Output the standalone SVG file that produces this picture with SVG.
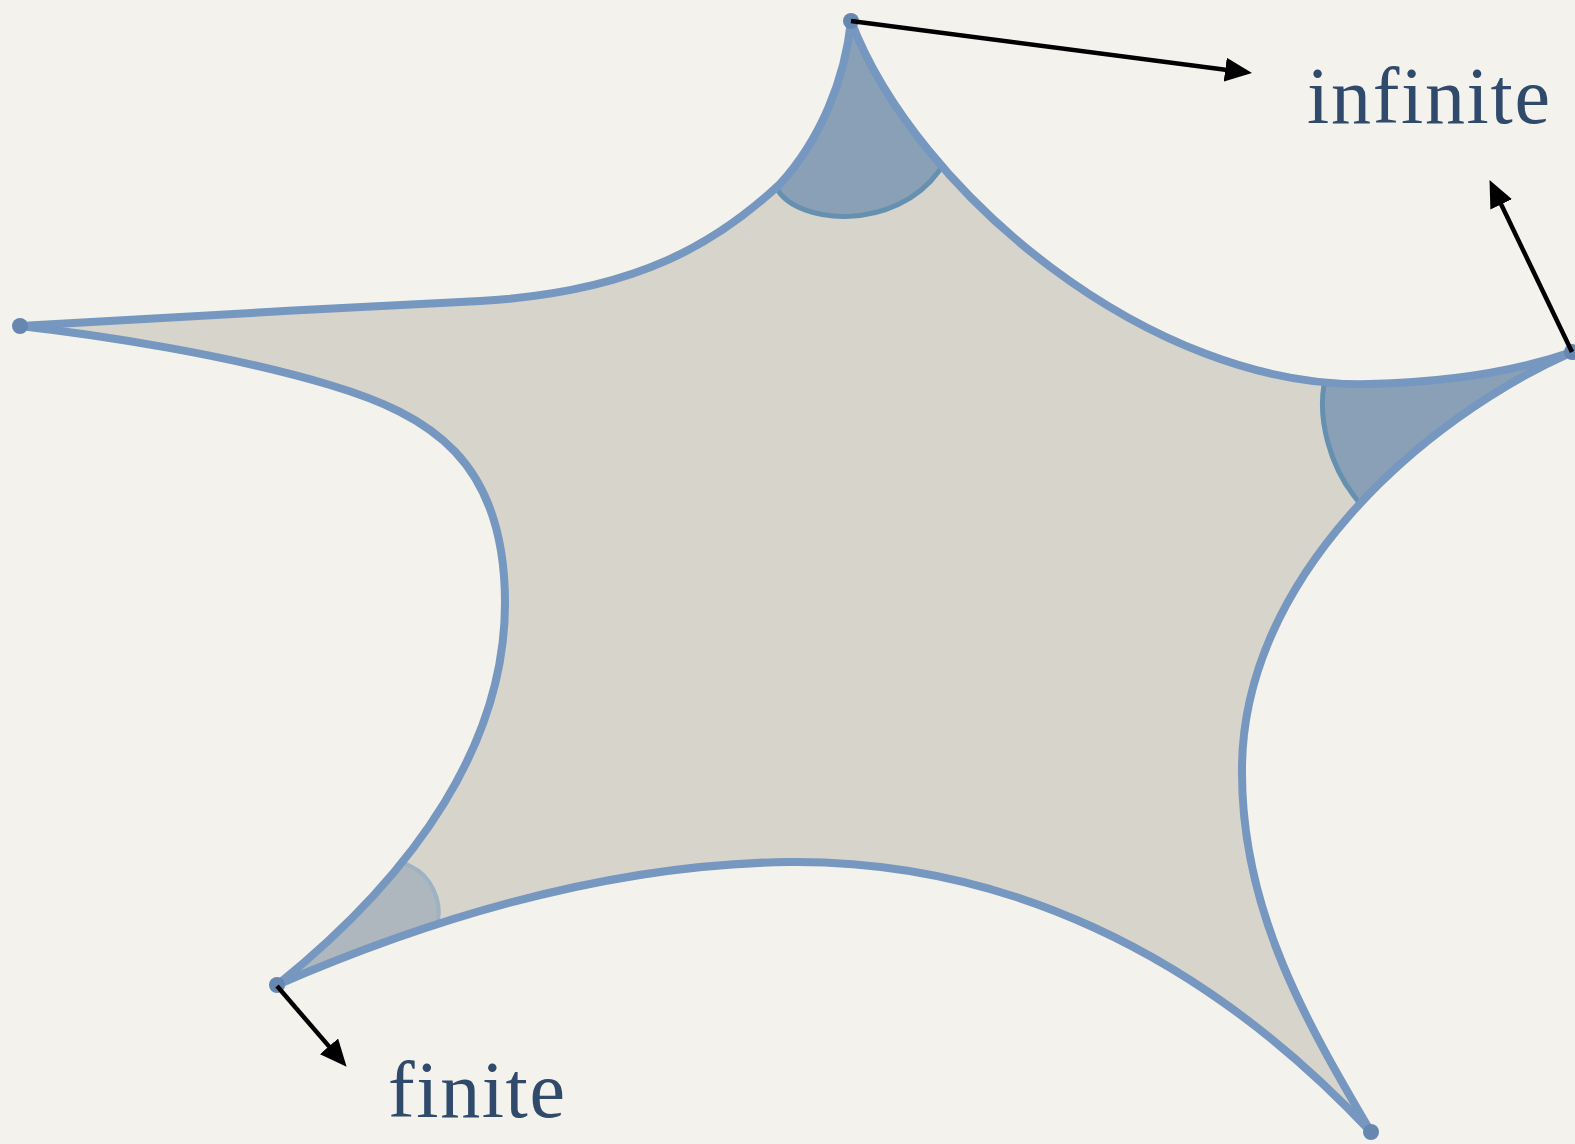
<svg xmlns="http://www.w3.org/2000/svg" width="1575" height="1144" viewBox="0 0 1575 1144">
<style>
.edge{fill:none;stroke:#7697bf;stroke-width:8;stroke-linecap:round;stroke-linejoin:round}
.vert{fill:#6688b0}
.arc{fill:none;stroke:#6690b0;stroke-width:5}
.arrow{stroke:#000;stroke-width:4.5;fill:none}
.lbl{font-family:"Liberation Serif","DejaVu Serif",serif;font-size:80px;fill:#2f4a6a}
</style>
<defs>
<marker id="ah" viewBox="0 0 27 24" refX="6" refY="12" markerWidth="27" markerHeight="24" markerUnits="userSpaceOnUse" orient="auto">
<path d="M0,0 L27,12 L0,24 Z" fill="#000"/>
</marker>
<path id="shape" d="M851,21 C915,190 1150,390 1370,384 C1450,382 1520,370 1572,352 C1420,420 1240,580 1242,773 C1242,910 1305,1020 1371,1132 C1200,950 1000,860 789,862 C620,864 450,910 277,985 C420,870 505,740 505,603 C505,460 430,415 330,385 C230,355 100,335 20,326 C160,318 330,308 480,301 C640,292 720,240 780,184 C820,140 845,80 851,21 Z"/>
<clipPath id="clip"><use href="#shape"/></clipPath>
</defs>
<rect width="1575" height="1144" fill="#f4f2ed"/>
<g id="surface">
<use href="#shape" fill="#d7d4cc"/>
</g>
<g id="angle-top" clip-path="url(#clip)">
<path d="M700,0 L700,150 L777,189 C798,225 895,232 939,171 L1050,0 Z" fill="#8aa0b6"/>
<path class="arc" d="M760,170 L777,189 C798,225 895,232 939,171 L955,150"/>
</g>
<g id="angle-right" clip-path="url(#clip)">
<path d="M1324,340 L1324,385 C1318,420 1330,465 1354,496 L1600,620 L1600,300 Z" fill="#8aa0b6"/>
<path class="arc" d="M1324,360 L1324,385 C1318,420 1330,465 1354,496 L1365,510"/>
</g>
<g id="angle-bottom-left" clip-path="url(#clip)">
<path d="M380,850 L412,867 C430,875 442,900 438,921 L440,960 L240,1010 L240,800 Z" fill="#aeb6be"/>
<path d="M395,858 L412,867 C430,875 442,900 438,921 L437,935" fill="none" stroke="#9db3c4" stroke-width="4"/>
</g>
<g id="edges">
<path class="edge" d="M851,21 C915,190 1150,390 1370,384 C1450,382 1520,370 1572,352"/>
<path class="edge" d="M1572,352 C1420,420 1240,580 1242,773 C1242,910 1305,1020 1371,1132"/>
<path class="edge" d="M1371,1132 C1200,950 1000,860 789,862 C620,864 450,910 277,985"/>
<path class="edge" d="M277,985 C420,870 505,740 505,603 C505,460 430,415 330,385 C230,355 100,335 20,326"/>
<path class="edge" d="M20,326 C160,318 330,308 480,301 C640,292 720,240 780,184 C820,140 845,80 851,21"/>
</g>
<g id="vertices">
<circle id="v-top" class="vert" cx="851" cy="21" r="8"/>
<circle id="v-right" class="vert" cx="1572" cy="352" r="8"/>
<circle id="v-bottom-right" class="vert" cx="1371" cy="1132" r="8"/>
<circle id="v-bottom-left" class="vert" cx="277" cy="985" r="8"/>
<circle id="v-left" class="vert" cx="20" cy="326" r="8"/>
</g>
<g id="connectors">
<line class="arrow" x1="851" y1="21" x2="1231.2" y2="70.4" marker-end="url(#ah)"/>
<line class="arrow" x1="1572" y1="352" x2="1498.6" y2="199" marker-end="url(#ah)"/>
<line class="arrow" x1="277" y1="986" x2="332.9" y2="1050.9" marker-end="url(#ah)"/>
</g>
<g id="label-infinite"><text class="lbl" x="1307" y="123" textLength="243">infinite</text></g>
<g id="label-finite"><text class="lbl" x="388" y="1117" textLength="177">finite</text></g>
</svg>
